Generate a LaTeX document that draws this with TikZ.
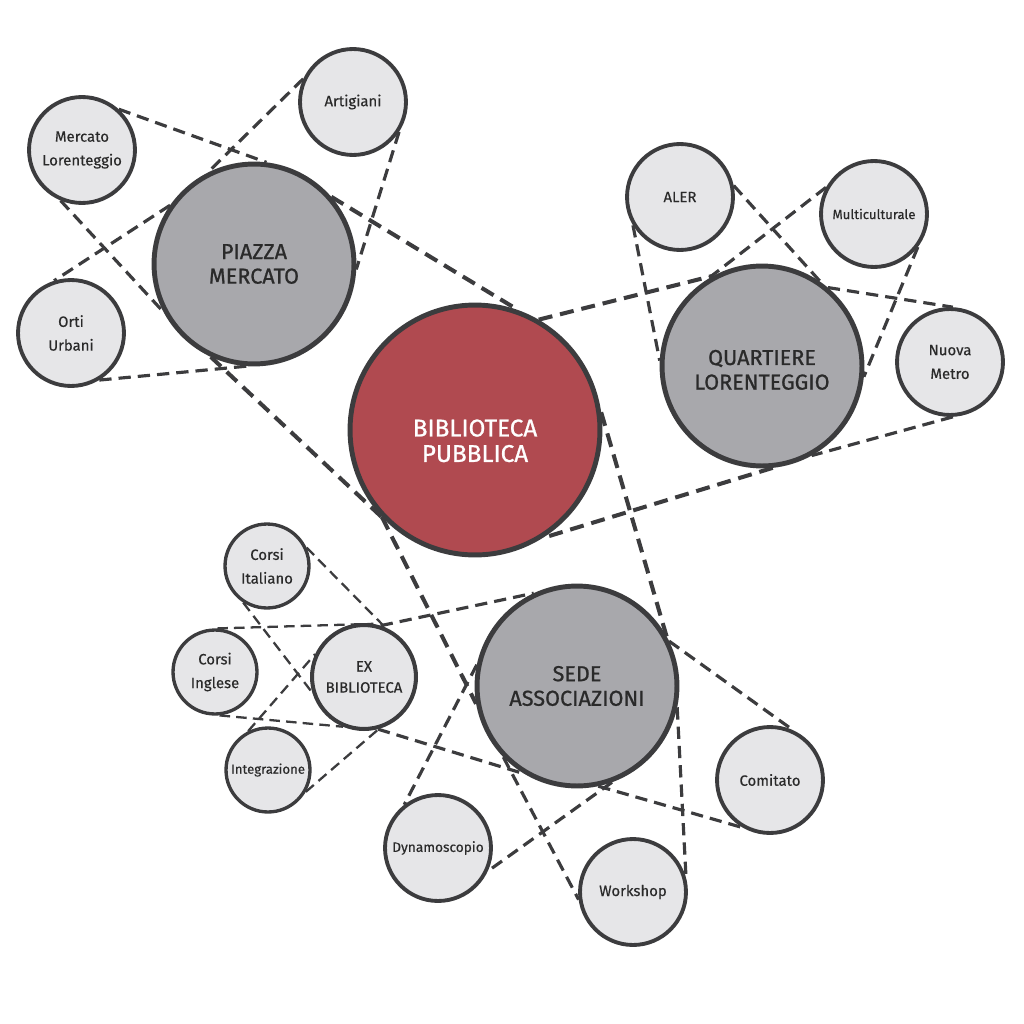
\documentclass[tikz,border=0pt]{standalone}
\usepackage{fontspec}
\setmainfont{Fira Sans}[FakeBold=0.3]
\newfontfamily\labfont{Fira Sans}[FakeBold=0.9]
\usetikzlibrary{backgrounds}
\definecolor{bibred}{HTML}{B04A50}
\definecolor{biggrey}{HTML}{A8A8AC}
\definecolor{smallgrey}{HTML}{E6E6E8}
\definecolor{edge}{HTML}{3C3C3E}
\definecolor{txt}{HTML}{2A2A2A}
\tikzset{
 circ/.style={circle, draw=edge, inner sep=0pt, align=center, minimum size=#1*0.04cm},
 mainc/.style={circ=#1, fill=biggrey, line width=2.8pt, font=\labfont\fontsize{12.3}{14}\selectfont, text=txt},
 sat/.style={circ=#1, fill=smallgrey, line width=2.2pt, font=\fontsize{8.5}{13.5}\selectfont, text=txt},
 link/.style={draw=edge, line width=1.8pt, dash pattern=on 7pt off 4pt},
 biglink/.style={draw=edge, line width=2.3pt, dash pattern=on 8pt off 4.5pt},
 thinlink/.style={draw=edge, line width=1.3pt, dash pattern=on 6pt off 3.5pt},
}
\begin{document}
\begin{tikzpicture}[x=0.02cm, y=-0.02cm]
\useasboundingbox (0,0) rectangle (1024,1024);
% main circles
\node[mainc=125, fill=bibred, text=white, font=\labfont\fontsize{13.8}{14.5}\selectfont] (bib) at (475,430) {\rule{0pt}{22pt}BIBLIOTECA\\PUBBLICA};
\node[mainc=100] (piaz) at (254,264) {PIAZZA\\MERCATO};
\node[mainc=100] (quar) at (762,366) {\rule{0pt}{13pt}QUARTIERE\\LORENTEGGIO};
\node[mainc=100] (sede) at (577,686) {SEDE\\ASSOCIAZIONI};
\node[sat=52, line width=2.3pt, font=\fontsize{8.5}{12}\selectfont] (exbib) at (364,677) {EX\\BIBLIOTECA};
% satellites
\node[sat=53] (merc) at (82,150) {Mercato\\Lorenteggio};
\node[sat=53] (art) at (353,102) {Artigiani};
\node[sat=53] (orti) at (71,333) {Orti\\Urbani};
\node[sat=53] (aler) at (680,197) {ALER};
\node[sat=53, font=\fontsize{7.5}{10}\selectfont] (multi) at (874,214) {Multiculturale};
\node[sat=53] (metro) at (950,362) {Nuova\\Metro};
\node[sat=42, line width=1.9pt] (cital) at (267,566) {Corsi\\Italiano};
\node[sat=42, line width=1.9pt] (cing) at (215,672) {Corsi\\Inglese};
\node[sat=42, line width=1.9pt, font=\fontsize{7.5}{10}\selectfont] (integ) at (268,770) {Integrazione};
\node[sat=53] (comit) at (770,780) {Comitato};
\node[sat=53, font=\fontsize{7.8}{10}\selectfont] (dyn) at (438,848) {Dynamoscopio};
\node[sat=53] (work) at (633,892) {Workshop};
\begin{scope}[on background layer]
\draw[link] (merc.48) -- (piaz.83);
\draw[link] (art.155) -- (piaz.117);
\draw[link] (art.-33) -- (piaz.-3);
\draw[link] (merc.-113) -- (piaz.-152);
\draw[link] (piaz.145) -- (orti.108);
\draw[link] (orti.-59) -- (piaz.-94);
\draw[biglink] (piaz.41) -- (bib.70);
\draw[biglink] (piaz.-115) -- (bib.-135);
\draw[biglink] (bib.-137) -- (sede.-170);
\draw[biglink] (bib.60) -- (quar.118);
\draw[link] (aler.-149) -- (quar.177);
\draw[link] (aler.12) -- (quar.55);
\draw[link] (multi.151) -- (quar.123);
\draw[link] (multi.-37) -- (quar.-6);
\draw[link] (quar.50) -- (metro.87);
\draw[link] (metro.-87) -- (quar.-61);
\draw[biglink] (quar.-84) -- (bib.-58);
\draw[biglink] (bib.8) -- (sede.29);
\draw[thinlink] (cital.25) -- (exbib.67);
\draw[thinlink] (cital.-123) -- (exbib.-163);
\draw[thinlink] (cing.87) -- (exbib.80);
\draw[link] (exbib.72) -- (sede.115);
\draw[thinlink] (cing.-84) -- (exbib.-113);
\draw[link] (exbib.-75) -- (sede.-121);
\draw[link] (sede.-78) -- (comit.-120);
\draw[thinlink] (integ.117) -- (exbib.155);
\draw[thinlink] (integ.-30) -- (exbib.-74);
\draw[link] (sede.26) -- (comit.65);
\draw[link] (sede.-12) -- (work.15);
\draw[link] (sede.168) -- (dyn.128);
\draw[link] (sede.-70) -- (dyn.-25);
\draw[link] (sede.-136) -- (work.-172);
\end{scope}
\end{tikzpicture}
\end{document}
